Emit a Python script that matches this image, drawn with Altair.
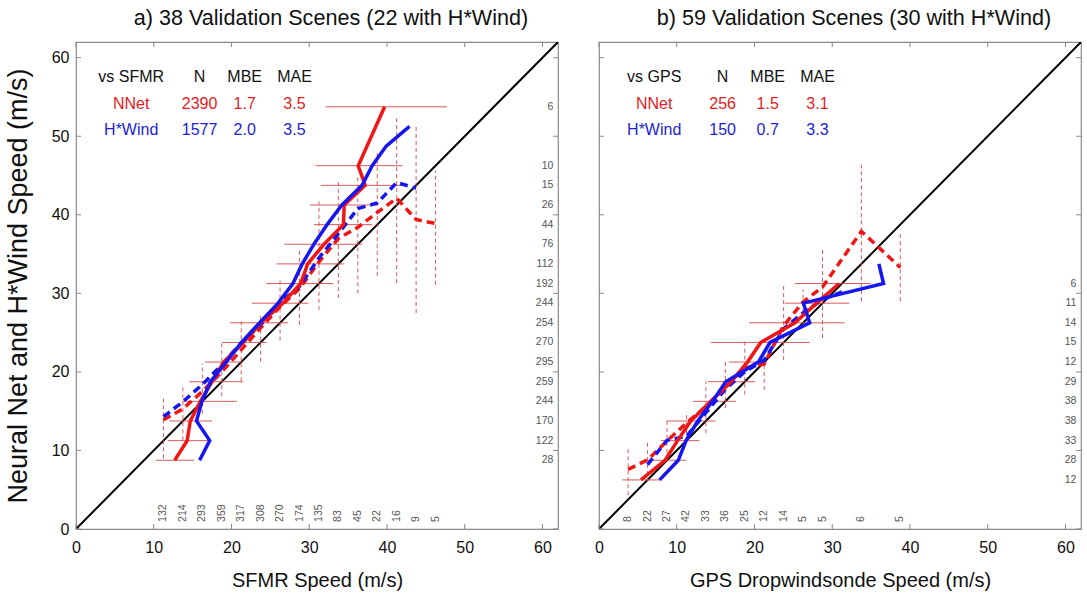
import altair as alt
import pandas as pd

# ---------------- shared ----------------
TICKS = [0, 10, 20, 30, 40, 50, 60]
DIAG = [0, 62]
HDR_COLS_X = [7.1, 15.9, 21.7, 28.1]
HDR_ROWS_Y = [57.6, 54.1, 50.8]
COUNT_X = 61.4      # right-hand count column (data units)
COUNT_Y = 0.9       # bottom count row (data units)

# ---------------- panel a: vs SFMR ----------------
a_title = "a) 38 Validation Scenes (22 with H*Wind)"
a_xtitle = "SFMR Speed (m/s)"
a_header = ["vs SFMR", "N", "MBE", "MAE"]
a_nnet_stats = ["NNet", "2390", "1.7", "3.5"]
a_hwind_stats = ["H*Wind", "1577", "2.0", "3.5"]

a_ybins = [8.75, 11.25, 13.75, 16.25, 18.75, 21.25, 23.75, 26.25, 28.75, 31.25,
           33.75, 36.25, 38.75, 41.25, 43.75, 46.25, 53.75]
a_nnet_solid_x = [12.7, 14.3, 14.7, 16.0, 17.5, 19.0, 21.5, 23.8, 26.6, 28.9,
                  29.8, 31.9, 34.4, 34.5, 37.2, 36.3, 39.7]
a_hwind_ybins = [8.75, 11.25, 13.75, 16.25, 18.75, 21.25, 23.75, 26.25, 28.75, 31.25,
                 33.75, 36.25, 38.75, 41.25, 43.75, 46.25, 48.75, 51.25]
a_hwind_solid_x = [15.9, 17.2, 15.5, 16.2, 17.3, 19.3, 21.3, 23.6, 26.0, 27.9,
                   29.1, 30.6, 32.3, 34.2, 36.8, 38.1, 39.9, 42.9]
a_xbins = [11.25, 13.75, 16.25, 18.75, 21.25, 23.75, 26.25, 28.75, 31.25, 33.75,
           36.25, 38.75, 41.25, 43.75, 46.25]
a_nnet_dash_y = [13.9, 15.3, 17.5, 20.0, 22.8, 25.6, 28.3, 30.6, 34.0, 37.0,
                 38.4, 40.3, 42.1, 39.4, 38.9]
a_hwind_xbins = [11.25, 13.75, 16.25, 18.75, 21.25, 23.75, 26.25, 28.75, 31.25, 33.75,
                 36.25, 38.75, 41.25, 43.75]
a_hwind_dash_y = [14.3, 16.2, 18.4, 20.9, 23.7, 26.0, 28.8, 30.9, 34.5, 37.6,
                  40.8, 41.5, 44.1, 43.4]
a_h_lo = [10.3, 11.8, 12.0, 13.7, 14.6, 16.6, 18.8, 19.8, 22.6, 24.5, 25.8, 26.8,
          30.6, 30.1, 31.5, 30.8, 32.1]
a_h_hi = [15.2, 17.1, 17.5, 20.7, 21.5, 21.5, 24.5, 27.3, 29.9, 33.1, 34.5, 36.8,
          38.1, 38.8, 42.0, 42.0, 47.7]
a_v_lo = [9.0, 11.3, 14.7, 16.9, 18.8, 21.3, 24.0, 26.0, 27.9, 29.4, 30.0, 32.2,
          31.3, 27.5, 31.1]
a_v_hi = [16.6, 18.3, 21.1, 23.7, 26.8, 27.3, 32.0, 35.6, 41.7, 44.3, 44.9, 48.1,
          52.6, 51.5, 45.6]
a_y_counts = [28, 122, 170, 244, 259, 295, 270, 254, 244, 192, 112, 76, 44, 26, 15, 10, 6]
a_x_counts = [132, 214, 293, 359, 317, 308, 270, 174, 135, 83, 45, 22, 16, 9, 5]

# ---------------- panel b: vs GPS dropwindsonde ----------------
b_title = "b) 59 Validation Scenes (30 with H*Wind)"
b_xtitle = "GPS Dropwindsonde Speed (m/s)"
b_header = ["vs GPS", "N", "MBE", "MAE"]
b_nnet_stats = ["NNet", "256", "1.5", "3.1"]
b_hwind_stats = ["H*Wind", "150", "0.7", "3.3"]

b_ybins = [6.25, 8.75, 11.25, 13.75, 16.25, 18.75, 21.25, 23.75, 26.25, 28.75, 31.25]
b_nnet_solid_x = [5.4, 8.5, 10.1, 11.8, 14.4, 17.0, 19.1, 20.8, 25.2, 28.0, 30.9]
b_hwind_ybins = [6.25, 8.75, 11.25, 13.75, 16.25, 18.75, 21.25, 23.75, 26.25, 28.75,
                 31.25, 33.75]
b_hwind_solid_x = [7.8, 10.2, 11.2, 12.7, 14.6, 16.3, 20.5, 22.0, 27.1, 26.3, 36.6, 36.0]
b_xbins = [3.75, 6.25, 8.75, 11.25, 13.75, 16.25, 18.75, 21.25, 23.75, 26.25, 28.75,
           33.75, 38.75]
b_nnet_dash_y = [7.6, 8.8, 11.2, 13.5, 15.6, 18.0, 20.5, 21.0, 25.9, 28.9, 30.8, 37.9, 33.3]
b_hwind_xbins = [6.25, 8.75, 11.25, 13.75, 16.25, 18.75, 21.25, 23.75, 26.25, 28.75, 31.25]
b_hwind_dash_y = [8.2, 11.3, 11.8, 14.8, 17.8, 20.0, 21.5, 25.5, 27.5, 29.2, 30.2]
b_h_lo = [3.0, 6.1, 8.0, 8.7, 12.1, 14.0, 16.7, 14.4, 19.3, 23.9, 25.2]
b_h_hi = [8.0, 11.2, 12.9, 15.0, 17.6, 20.1, 21.6, 27.1, 31.6, 32.2, 35.0]
b_v_lo = [4.3, 6.0, 8.8, 11.3, 12.2, 15.4, 17.1, 17.7, 21.5, 27.5, 24.3, 29.0, 29.0]
b_v_hi = [10.3, 11.1, 13.9, 14.9, 18.8, 21.3, 23.9, 22.5, 31.3, 30.5, 35.8, 46.4, 37.9]
b_y_counts = [12, 28, 33, 38, 38, 29, 12, 15, 14, 11, 6]
b_x_counts = [8, 22, 27, 42, 33, 36, 25, 12, 14, 5, 5, 6, 5]

# ---------------- styling ----------------
FONT = "Liberation Sans"
RED = "#f01616"
BLUE = "#1616f0"
RED_TXT = "#e21c1c"
BLUE_TXT = "#2222d4"
ERR = "#d24a4a"
FRAME = "#8a8a8a"
W = 482
H = 487
TICK_LEN = 5


def build_panel(title, xtitle, header, nn_stats, hw_stats,
                ybins, nn_sx, hw_ybins, hw_sx, xbins, nn_dy, hw_xbins, hw_dy,
                h_lo, h_hi, v_lo, v_hi, y_counts, x_counts, show_y):
    xs = alt.Scale(domain=[0, 62], nice=False, zero=False)
    ys = alt.Scale(domain=[0, 62], nice=False, zero=False)

    x_axis = alt.Axis(values=TICKS, title=xtitle, labelFontSize=16, labelColor="#111",
                      labelPadding=10, labelFlush=False, domain=False, ticks=False,
                      tickSize=0, grid=False,
                      titleFontSize=20, titleFontWeight="normal", titleColor="#111",
                      titlePadding=15, labelFont=FONT, titleFont=FONT)
    if show_y:
        y_axis = alt.Axis(values=TICKS, title="Neural Net and H*Wind Speed (m/s)",
                          labelFontSize=16, labelColor="#111", labelPadding=7,
                          domain=False, ticks=False, tickSize=0, grid=False,
                          titleFontSize=27, titleFontWeight="normal", titleColor="#111",
                          titlePadding=19, labelFont=FONT, titleFont=FONT)
    else:
        y_axis = None

    def X(f):
        return alt.X(f, type="quantitative", scale=xs, axis=x_axis, title=xtitle)

    def Y(f):
        if show_y:
            return alt.Y(f, type="quantitative", scale=ys, axis=y_axis,
                         title="Neural Net and H*Wind Speed (m/s)")
        return alt.Y(f, type="quantitative", scale=ys, axis=None)

    diag = alt.Chart(pd.DataFrame({"x": DIAG, "y": DIAG})).mark_line(
        color="black", strokeWidth=2, clip=True).encode(x=X("x"), y=Y("y"))

    hbars = alt.Chart(pd.DataFrame({"y": ybins, "lo": h_lo, "hi": h_hi})).mark_rule(
        color=ERR, strokeWidth=1, opacity=0.9).encode(x=X("lo"), x2="hi", y=Y("y"))
    vbars = alt.Chart(pd.DataFrame({"x": xbins, "lo": v_lo, "hi": v_hi})).mark_rule(
        color=ERR, strokeWidth=1, opacity=0.9, strokeDash=[4, 3]).encode(
        x=X("x"), y=Y("lo"), y2="hi")

    nn_solid = alt.Chart(pd.DataFrame({"x": nn_sx, "y": ybins})).mark_line(
        color=RED, strokeWidth=3.5).encode(x=X("x"), y=Y("y"), order="y:Q")
    hw_solid = alt.Chart(pd.DataFrame({"x": hw_sx, "y": hw_ybins})).mark_line(
        color=BLUE, strokeWidth=3.5).encode(x=X("x"), y=Y("y"), order="y:Q")
    nn_dash = alt.Chart(pd.DataFrame({"x": xbins, "y": nn_dy})).mark_line(
        color=RED, strokeWidth=3.5, strokeDash=[8, 5]).encode(x=X("x"), y=Y("y"), order="x:Q")
    hw_dash = alt.Chart(pd.DataFrame({"x": hw_xbins, "y": hw_dy})).mark_line(
        color=BLUE, strokeWidth=3.5, strokeDash=[8, 5]).encode(x=X("x"), y=Y("y"), order="x:Q")

    def table_row(texts, row_y, color):
        df = pd.DataFrame({"x": HDR_COLS_X, "y": [row_y] * 4, "t": texts})
        return alt.Chart(df).mark_text(fontSize=16, color=color, font=FONT,
                                       align="center", baseline="middle").encode(
            x=X("x"), y=Y("y"), text="t:N")

    t0 = table_row(header, HDR_ROWS_Y[0], "#111")
    t1 = table_row(nn_stats, HDR_ROWS_Y[1], RED_TXT)
    t2 = table_row(hw_stats, HDR_ROWS_Y[2], BLUE_TXT)

    ycnt = alt.Chart(pd.DataFrame({"y": ybins, "n": [str(v) for v in y_counts],
                                   "x": [COUNT_X] * len(ybins)})).mark_text(
        fontSize=10.5, color="#555", font=FONT, align="right", baseline="middle").encode(
        x=X("x"), y=Y("y"), text="n:N")
    xcnt = alt.Chart(pd.DataFrame({"x": xbins, "n": [str(v) for v in x_counts],
                                   "y": [COUNT_Y] * len(xbins)})).mark_text(
        fontSize=10.5, color="#555", font=FONT, align="left", baseline="middle",
        angle=270).encode(x=X("x"), y=Y("y"), text="n:N")

    tdf = pd.DataFrame({"t": TICKS})
    tk_top = alt.Chart(tdf).mark_rule(color=FRAME).encode(
        x=X("t"), y=alt.value(0), y2=alt.value(TICK_LEN))
    tk_bot = alt.Chart(tdf).mark_rule(color=FRAME).encode(
        x=X("t"), y=alt.value(H), y2=alt.value(H - TICK_LEN))
    tk_left = alt.Chart(tdf).mark_rule(color=FRAME).encode(
        y=Y("t"), x=alt.value(0), x2=alt.value(TICK_LEN))
    tk_right = alt.Chart(tdf).mark_rule(color=FRAME).encode(
        y=Y("t"), x=alt.value(W - TICK_LEN), x2=alt.value(W))

    return alt.layer(diag, hbars, vbars, nn_dash, hw_dash, nn_solid, hw_solid,
                     t0, t1, t2, ycnt, xcnt, tk_top, tk_bot, tk_left, tk_right).properties(
        width=W, height=H,
        title=alt.TitleParams(text=title, fontSize=21.6, fontWeight="normal", color="#111",
                              font=FONT, offset=12, anchor="middle", dx=14))


left = build_panel(a_title, a_xtitle, a_header, a_nnet_stats, a_hwind_stats,
                   a_ybins, a_nnet_solid_x, a_hwind_ybins, a_hwind_solid_x,
                   a_xbins, a_nnet_dash_y, a_hwind_xbins, a_hwind_dash_y,
                   a_h_lo, a_h_hi, a_v_lo, a_v_hi, a_y_counts, a_x_counts, True)
right = build_panel(b_title, b_xtitle, b_header, b_nnet_stats, b_hwind_stats,
                    b_ybins, b_nnet_solid_x, b_hwind_ybins, b_hwind_solid_x,
                    b_xbins, b_nnet_dash_y, b_hwind_xbins, b_hwind_dash_y,
                    b_h_lo, b_h_hi, b_v_lo, b_v_hi, b_y_counts, b_x_counts, False)

chart = alt.hconcat(left, right, spacing=33).properties(
    padding={"left": 3, "top": 7, "right": 0, "bottom": 2},
    background="white",
).configure(font=FONT).configure_view(stroke=FRAME, strokeWidth=1.2)

chart.save("out.html", embed_options={"renderer": "svg", "actions": False})
